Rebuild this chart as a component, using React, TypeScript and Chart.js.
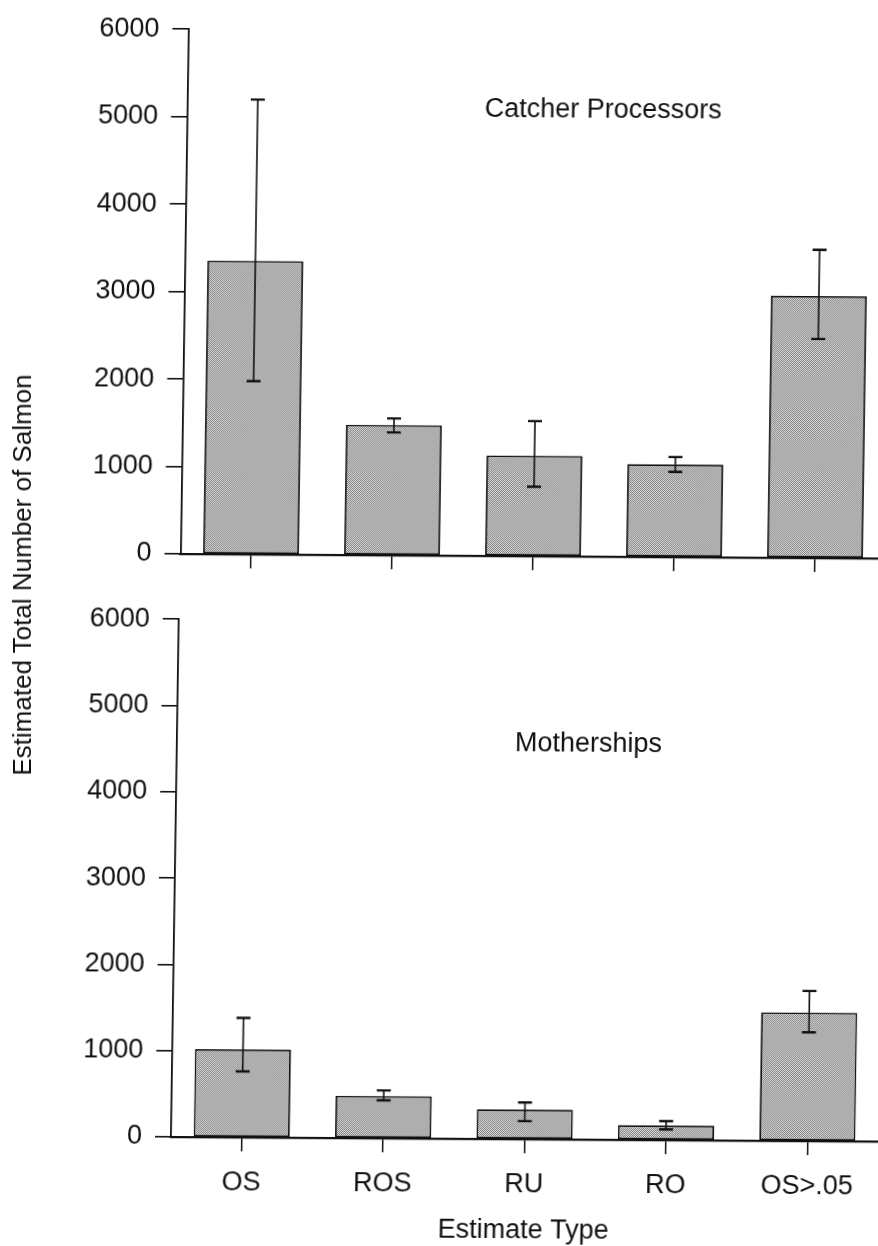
import React, { useEffect, useRef } from 'react';
import { Chart, registerables } from 'chart.js';

Chart.register(...registerables);

// Estimate types along the x axis
const categories = ['OS', 'ROS', 'RU', 'RO', 'OS>.05'];
// Value-axis ticks shared by both panels
const yTicks = [0, 1000, 2000, 3000, 4000, 5000, 6000];

// Catcher processors: estimate and interval bounds
const catcherMean = [3355, 1490, 1150, 1060, 2995];
const catcherLower = [1980, 1405, 795, 975, 2505];
const catcherUpper = [5200, 1565, 1545, 1145, 3525];

// Motherships: estimate and interval bounds
const motherMean = [1020, 490, 345, 170, 1490];
const motherLower = [765, 440, 210, 125, 1260];
const motherUpper = [1385, 555, 425, 220, 1740];

const FONT = "'Liberation Sans', Arial, Helvetica, sans-serif";
const INK = '#111111';

// Slight page slant of the printed figure (horizontal / vertical shear)
const SLOPE_DOWN = 0.0065;
const SLOPE_RIGHT = 0.015;

// Fine halftone fill used for the bars
function makeStipple(): CanvasPattern | string {
  const c = document.createElement('canvas');
  c.width = 2;
  c.height = 2;
  const g = c.getContext('2d');
  if (!g) return '#aaaaaa';
  g.fillStyle = '#e2e2e2';
  g.fillRect(0, 0, 2, 2);
  g.fillStyle = '#7a7a7a';
  g.fillRect(0, 0, 1, 1);
  g.fillRect(1, 1, 1, 1);
  return g.createPattern(c, 'repeat') || '#aaaaaa';
}

// Draws vertical interval whiskers with caps on top of each bar
const errorBars = {
  id: 'errorBars',
  afterDatasetsDraw(chart: any, _args: any, opts: any) {
    const { ctx, scales } = chart;
    const x = scales.x;
    const y = scales.y;
    const lower: number[] = opts.lower || [];
    const upper: number[] = opts.upper || [];
    const cap = 7;
    ctx.save();
    ctx.strokeStyle = INK;
    lower.forEach((_v: number, i: number) => {
      const px = x.getPixelForValue(i);
      const yl = y.getPixelForValue(lower[i]);
      const yh = y.getPixelForValue(upper[i]);
      ctx.lineWidth = 1.6;
      ctx.beginPath();
      ctx.moveTo(px, yl);
      ctx.lineTo(px, yh);
      ctx.stroke();
      ctx.lineWidth = 2.4;
      ctx.beginPath();
      ctx.moveTo(px - cap, yh);
      ctx.lineTo(px + cap, yh);
      ctx.moveTo(px - cap, yl);
      ctx.lineTo(px + cap, yl);
      ctx.stroke();
    });
    ctx.restore();
  },
};

// Panel caption placed in data coordinates inside the plot
const panelLabel = {
  id: 'panelLabel',
  afterDraw(chart: any, _args: any, opts: any) {
    if (!opts || !opts.text) return;
    const { ctx, scales } = chart;
    const px = scales.x.getPixelForValue(opts.at);
    const py = scales.y.getPixelForValue(opts.value);
    ctx.save();
    ctx.fillStyle = INK;
    ctx.font = `${opts.size}px ${FONT}`;
    ctx.textAlign = 'center';
    ctx.textBaseline = 'middle';
    ctx.fillText(opts.text, px, py);
    ctx.restore();
  },
};

type PanelSetup = {
  mean: number[];
  lower: number[];
  upper: number[];
  caption: string;
  captionAt: number;
  captionValue: number;
  yWidth: number;
  xHeight: number;
  padTop: number;
  padRight: number;
  showXLabels: boolean;
  xTitle: string;
};

function buildConfig(p: PanelSetup): any {
  const tickFont = { family: FONT, size: 27 };
  return {
    type: 'bar',
    data: {
      labels: categories,
      datasets: [
        {
          data: p.mean,
          backgroundColor: makeStipple(),
          borderColor: INK,
          borderWidth: 1.8,
          borderSkipped: false,
          categoryPercentage: 1,
          barPercentage: 0.68,
        },
      ],
    },
    options: {
      responsive: false,
      animation: false,
      devicePixelRatio: 1,
      layout: { padding: { top: p.padTop, right: p.padRight, left: 0, bottom: 0 } },
      plugins: {
        legend: { display: false },
        tooltip: { enabled: false },
        errorBars: { lower: p.lower, upper: p.upper },
        panelLabel: { text: p.caption, at: p.captionAt, value: p.captionValue, size: 27 },
      },
      scales: {
        x: {
          type: 'category',
          offset: true,
          grid: {
            display: true,
            drawOnChartArea: false,
            drawTicks: true,
            tickLength: 14,
            color: INK,
            lineWidth: 1.5,
            offset: false,
          },
          border: { display: true, color: INK, width: 2.2 },
          ticks: {
            display: p.showXLabels,
            color: INK,
            font: tickFont,
            padding: 15,
            maxRotation: 0,
            autoSkip: false,
          },
          title: {
            display: !!p.xTitle,
            text: p.xTitle,
            color: INK,
            font: tickFont,
            padding: { top: 0, bottom: 1 },
          },
          afterFit: (s: any) => {
            s.height = p.xHeight;
          },
        },
        y: {
          type: 'linear',
          min: yTicks[0],
          max: yTicks[yTicks.length - 1],
          afterBuildTicks: (s: any) => {
            s.ticks = yTicks.map((v) => ({ value: v }));
          },
          ticks: {
            color: INK,
            font: tickFont,
            padding: 13,
            callback: (v: any) => String(v),
          },
          grid: {
            display: true,
            drawOnChartArea: false,
            drawTicks: true,
            tickLength: 16,
            color: INK,
            lineWidth: 1.6,
          },
          border: { display: true, color: INK, width: 1.8 },
          afterFit: (s: any) => {
            s.width = p.yWidth;
          },
        },
      },
    },
    plugins: [errorBars, panelLabel],
  };
}

const shear = `matrix(1, ${SLOPE_DOWN}, ${-SLOPE_RIGHT}, 1, 0, 0)`;

export default function App() {
  const topRef = useRef<HTMLCanvasElement>(null);
  const bottomRef = useRef<HTMLCanvasElement>(null);

  useEffect(() => {
    if (!topRef.current || !bottomRef.current) return;
    const top = new Chart(
      topRef.current,
      buildConfig({
        mean: catcherMean,
        lower: catcherLower,
        upper: catcherUpper,
        caption: 'Catcher Processors',
        captionAt: 2.45,
        captionValue: 5100,
        yWidth: 180.5,
        xHeight: 36,
        padTop: 23,
        padRight: 14.5,
        showXLabels: false,
        xTitle: '',
      })
    );
    const bottom = new Chart(
      bottomRef.current,
      buildConfig({
        mean: motherMean,
        lower: motherLower,
        upper: motherUpper,
        caption: 'Motherships',
        captionAt: 2.41,
        captionValue: 4580,
        yWidth: 171,
        xHeight: 109,
        padTop: 25,
        padRight: 22,
        showXLabels: true,
        xTitle: 'Estimate Type',
      })
    );
    return () => {
      top.destroy();
      bottom.destroy();
    };
  }, []);

  return (
    <div
      style={{
        position: 'absolute',
        left: 0,
        top: 0,
        width: 878,
        height: 1246,
        overflow: 'hidden',
        background: '#ffffff',
      }}
    >
      <canvas
        ref={topRef}
        width={900}
        height={590}
        style={{
          position: 'absolute',
          left: 0,
          top: 0,
          width: 900,
          height: 590,
          transformOrigin: '180.5px 554px',
          transform: shear,
        }}
      />
      <canvas
        ref={bottomRef}
        width={900}
        height={656}
        style={{
          position: 'absolute',
          left: 0,
          top: 590,
          width: 900,
          height: 656,
          transformOrigin: '171px 547px',
          transform: shear,
        }}
      />
      <div
        style={{
          position: 'absolute',
          left: 22,
          top: 575,
          transform: 'translate(-50%, -50%) rotate(-90deg)',
          whiteSpace: 'nowrap',
          fontFamily: FONT,
          fontSize: 26,
          lineHeight: '30px',
          color: INK,
        }}
      >
        Estimated Total Number of Salmon
      </div>
    </div>
  );
}
